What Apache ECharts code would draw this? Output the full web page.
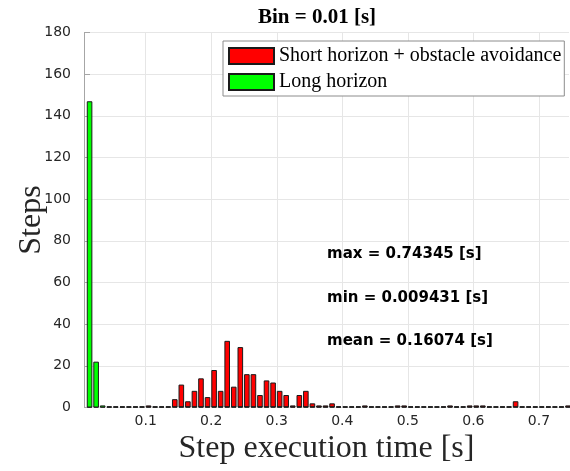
<!DOCTYPE html>
<html>
<head>
<meta charset="utf-8">
<script src="https://cdn.jsdelivr.net/npm/echarts@6/dist/echarts.min.js"></script>
<style>html,body{margin:0;padding:0;background:#fff;}#c{width:570px;height:471px;}</style>
</head>
<body>
<div id="c"></div>
<script>
// Bin centers (bin width 0.01 s)
const binCenters = [
  0.0144, 0.0244, 0.0344, 0.0444, 0.0544, 0.0644, 0.0744, 0.0844, 0.0944, 0.1044,
  0.1144, 0.1244, 0.1344, 0.1444, 0.1544, 0.1644, 0.1744, 0.1844, 0.1944, 0.2044,
  0.2144, 0.2244, 0.2344, 0.2444, 0.2544, 0.2644, 0.2744, 0.2844, 0.2944, 0.3044,
  0.3144, 0.3244, 0.3344, 0.3444, 0.3544, 0.3644, 0.3744, 0.3844, 0.3944, 0.4044,
  0.4144, 0.4244, 0.4344, 0.4444, 0.4544, 0.4644, 0.4744, 0.4844, 0.4944, 0.5044,
  0.5144, 0.5244, 0.5344, 0.5444, 0.5544, 0.5644, 0.5744, 0.5844, 0.5944, 0.6044,
  0.6144, 0.6244, 0.6344, 0.6444, 0.6544, 0.6644, 0.6744, 0.6844, 0.6944, 0.7044,
  0.7144, 0.7244, 0.7344, 0.7444
];
// Short horizon + obstacle avoidance counts
const shortCounts = [
  0, 0, 0, 0, 0, 0, 0, 0, 0, 1,
  0, 0, 0, 4, 11, 3, 8, 14, 5, 18,
  8, 32, 10, 29, 16, 16, 6, 13, 12, 8,
  6, 1, 6, 8, 2, 1, 1, 2, 0, 0,
  0, 0, 1, 0, 0, 0, 0, 1, 1, 0,
  0, 0, 0, 0, 0, 1, 0, 0, 1, 1,
  1, 0, 0, 0, 0, 3, 0, 0, 0, 0,
  0, 0, 0, 1
];
// Long horizon counts
const longCounts = [
  147, 22, 1, 0, 0, 0, 0, 0, 0, 0,
  0, 0, 0, 0, 0, 0, 0, 0, 0, 0,
  0, 0, 0, 0, 0, 0, 0, 0, 0, 0,
  0, 0, 0, 0, 0, 0, 0, 0, 0, 0,
  0, 0, 0, 0, 0, 0, 0, 0, 0, 0,
  0, 0, 0, 0, 0, 0, 0, 0, 0, 0,
  0, 0, 0, 0, 0, 0, 0, 0, 0, 0,
  0, 0, 0, 0
];
const xTickValues = [0.1, 0.2, 0.3, 0.4, 0.5, 0.6, 0.7];
const seriesNames = ['Short horizon + obstacle avoidance', 'Long horizon'];
const statsTexts = ['max = 0.74345 [s]', 'min = 0.009431 [s]', 'mean = 0.16074 [s]'];
const titleText = 'Bin = 0.01 [s]';

const chart = echarts.init(document.getElementById('c'), null, {renderer: 'canvas'});
const pair = (vals) => binCenters.map((c, i) => [c, vals[i]]);
const statY = [254, 298, 341];

const barCommon = {
  type: 'bar',
  barWidth: 5.6,
  barGap: '-100%',
  barMinHeight: 1,
  clip: true,
  animation: false
};

chart.setOption({
  backgroundColor: '#ffffff',
  animation: false,
  title: {
    text: titleText,
    left: 312,
    textAlign: 'center',
    top: 2,
    textStyle: {fontFamily: 'Liberation Serif', fontWeight: 'bold', fontSize: 21, color: '#000'}
  },
  legend: {
    orient: 'vertical',
    left: 223,
    top: 41,
    padding: [5, 3, 4, 5],
    itemWidth: 45,
    itemHeight: 16,
    itemGap: 6,
    icon: 'rect',
    borderColor: '#8c8c8c',
    borderWidth: 1,
    backgroundColor: '#ffffff',
    textStyle: {fontFamily: 'Liberation Serif', fontSize: 20, color: '#000'},
    data: seriesNames
  },
  grid: {left: 84, right: 1, top: 32.5, bottom: 63.5, containLabel: false, outerBoundsMode: 'none'},
  xAxis: {
    type: 'value',
    min: 0.0059,
    max: 0.7459,
    name: 'Step execution time [s]',
    nameLocation: 'middle',
    nameGap: 25,
    nameMoveOverlap: false,
    nameTextStyle: {fontFamily: 'Liberation Serif', fontSize: 32, color: '#262626'},
    axisLine: {show: false},
    axisTick: {show: false, customValues: xTickValues},
    axisLabel: {customValues: xTickValues, fontFamily: 'DejaVu Sans', fontSize: 14, color: '#262626', margin: 7,
      formatter: (v) => String(Math.round(v * 10) / 10)},
    splitLine: {show: true, lineStyle: {color: '#e6e6e6', width: 1}}
  },
  yAxis: {
    type: 'value',
    min: 0,
    max: 180,
    interval: 20,
    name: 'Steps',
    nameLocation: 'middle',
    nameGap: 36,
    nameMoveOverlap: false,
    nameTextStyle: {fontFamily: 'Liberation Serif', fontSize: 32, color: '#262626'},
    axisLine: {show: true, lineStyle: {color: '#a6a6a6', width: 1}},
    axisTick: {show: true, inside: true, length: 6, lineStyle: {color: '#a6a6a6'}},
    axisLabel: {fontFamily: 'DejaVu Sans', fontSize: 14, color: '#262626', margin: 13},
    splitLine: {show: true, lineStyle: {color: '#e6e6e6', width: 1}}
  },
  series: [
    Object.assign({}, barCommon, {
      name: seriesNames[0],
      data: pair(shortCounts),
      itemStyle: {color: '#ff0000', borderColor: '#1a1a1a', borderWidth: 1}
    }),
    Object.assign({}, barCommon, {
      name: seriesNames[1],
      data: pair(longCounts),
      itemStyle: {color: '#00ff00', borderColor: '#1a1a1a', borderWidth: 1}
    })
  ],
  graphic: statsTexts.map((t, i) => ({
    type: 'text',
    x: 327,
    y: statY[i],
    z: 100,
    style: {text: t, font: 'bold 15px "DejaVu Sans"', fill: '#000', verticalAlign: 'middle', align: 'left'}
  }))
});
</script>
</body>
</html>
